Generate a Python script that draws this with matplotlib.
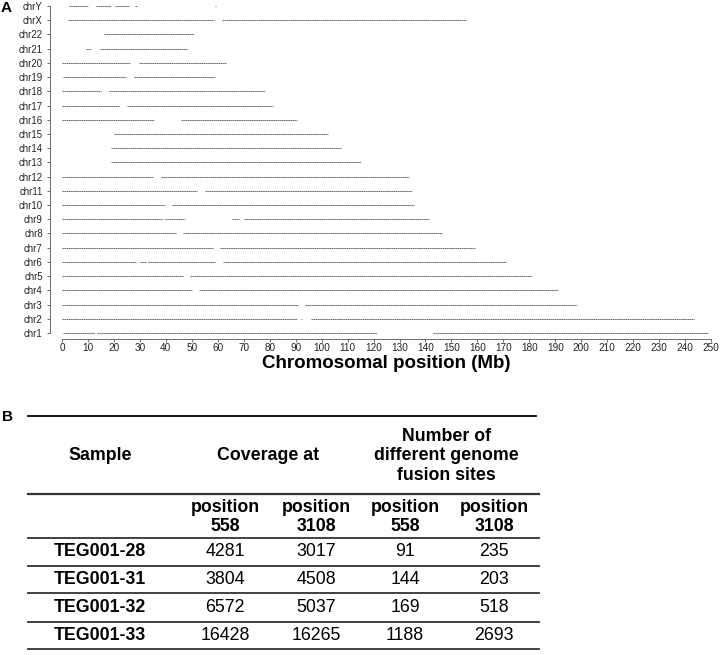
import matplotlib
matplotlib.use('Agg')
import matplotlib.pyplot as plt


# =========================
# 数据
# =========================
chroms = ['chr1', 'chr2', 'chr3', 'chr4', 'chr5', 'chr6', 'chr7', 'chr8',
          'chr9', 'chr10', 'chr11', 'chr12', 'chr13', 'chr14', 'chr15',
          'chr16', 'chr17', 'chr18', 'chr19', 'chr20', 'chr21', 'chr22',
          'chrX', 'chrY']

# 每条染色体上融合位点覆盖的区段 (Mb)
segments = [
    [(0.5, 12.7), (13.4, 121.5), (143, 249)],                 # chr1
    [(0, 90.4), (92.1, 92.5), (95.8, 243.5)],                 # chr2
    [(0, 90.8), (93.6, 198.5)],                               # chr3
    [(0, 50), (52.8, 191)],                                   # chr4
    [(0, 46.7), (49.3, 181)],                                 # chr5
    [(0, 28.6), (30, 32.5), (33.2, 58.8), (62, 171)],         # chr6
    [(0, 58), (61, 159)],                                     # chr7
    [(0, 43.8), (46.7, 146.5)],                               # chr8
    [(0, 38.8), (39.5, 47.4), (65.3, 68), (70, 141.5)],       # chr9
    [(0, 39.5), (42.2, 135.5)],                               # chr10
    [(0, 52), (55, 135)],                                     # chr11
    [(0, 35), (38, 133.5)],                                   # chr12
    [(19, 115)],                                              # chr13
    [(19, 107.5)],                                            # chr14
    [(20, 102.5)],                                            # chr15
    [(0, 35.3), (46, 90.5)],                                  # chr16
    [(0, 22), (25.2, 81.2)],                                  # chr17
    [(0, 15.2), (18.2, 78)],                                  # chr18
    [(0.2, 24.5), (27.8, 59)],                                # chr19
    [(0, 26.3), (29.5, 63)],                                  # chr20
    [(9.3, 11), (14.5, 48)],                                  # chr21
    [(16, 51)],                                               # chr22
    [(2.5, 58.5), (61.5, 155.5)],                             # chrX
    [(2.7, 10), (13, 19), (20.5, 26), (28.3, 28.7), (58.8, 59.2)],  # chrY
]

x_ticks = list(range(0, 251, 10))

# 表格数据
samples = ['TEG001-28', 'TEG001-31', 'TEG001-32', 'TEG001-33']
cov_558 = [4281, 3804, 6572, 16428]
cov_3108 = [3017, 4508, 5037, 16265]
fus_558 = [91, 144, 169, 1188]
fus_3108 = [235, 203, 518, 2693]


# =========================
# 风格
# =========================
plt.rcParams['font.family'] = ['Liberation Sans', 'DejaVu Sans']

W, H = 726, 655
fig = plt.figure(figsize=(W / 100, H / 100), dpi=100)


def fx(px):
    return px / W


def fy(py):
    return 1 - py / H


# ======================================================
# 面板 A
# ======================================================
ax = fig.add_axes([fx(50), fy(339), fx(716) - fx(50), fy(3) - fy(339)])

for i, segs in enumerate(segments):
    for s, e in segs:
        ax.hlines(i, s, e, colors='#6e6e6e', linewidth=0.75,
                  linestyles=(0, (1.6, 0.45)))

ax.set_xlim(-4.62, 251.9)
ax.set_ylim(-0.42, 23.21)

ax.set_yticks(range(len(chroms)))
ax.set_yticklabels(chroms, fontsize=6.9, color='#222222')
ax.set_xticks(x_ticks)
ax.set_xticklabels([str(t) for t in x_ticks], fontsize=7.2, color='#222222')
ax.tick_params(axis='y', length=2.2, width=0.6, pad=3, colors='#555555',
               labelcolor='#222222')
ax.tick_params(axis='x', length=2.2, width=0.6, pad=1, colors='#555555',
               labelcolor='#222222')

for side in ['top', 'right']:
    ax.spines[side].set_visible(False)
ax.spines['left'].set_bounds(0, len(chroms) - 1)
ax.spines['bottom'].set_bounds(0, 250)
ax.spines['left'].set_color('#555555')
ax.spines['bottom'].set_color('#555555')
ax.spines['left'].set_linewidth(0.6)
ax.spines['bottom'].set_linewidth(0.6)

fig.text(fx(386.5), fy(363), 'Chromosomal position (Mb)', fontsize=13.5,
         fontweight='bold', ha='center', va='center')
fig.text(fx(1), fy(7.5), 'A', fontsize=11, fontweight='bold',
         ha='left', va='center')


# ======================================================
# 面板 B 表格
# ======================================================
tb = fig.add_axes([0, 0, 1, 1], zorder=-1)
tb.set_xlim(0, W)
tb.set_ylim(H, 0)
tb.axis('off')

fig.text(fx(2), fy(417), 'B', fontsize=11, fontweight='bold',
         ha='left', va='center')

fs = 12.8
col_x = [100, 225, 316, 405, 494]

# 横线
tb.plot([28, 536], [416, 416], color='black', linewidth=1.3)
tb.plot([28, 539], [494, 494], color='#333333', linewidth=1.6)
for yy in [538, 566, 593, 622, 649]:
    tb.plot([28, 539], [yy, yy], color='#333333', linewidth=1.3)

# 表头
tb.text(col_x[0], 456, 'Sample', fontsize=fs, fontweight='bold',
        ha='center', va='center')
tb.text(268, 456, 'Coverage at', fontsize=fs, fontweight='bold',
        ha='center', va='center')
tb.text(446, 456, 'Number of\ndifferent genome\nfusion sites', fontsize=fs,
        fontweight='bold', ha='center', va='center', multialignment='center',
        linespacing=1.2)

sub_headers = ['position\n558', 'position\n3108', 'position\n558', 'position\n3108']
for x, lab in zip(col_x[1:], sub_headers):
    tb.text(x, 517, lab, fontsize=fs, fontweight='bold', ha='center',
            va='center', multialignment='center', linespacing=1.2)

# 数据行
row_y = [552, 579.5, 607, 635]
for k, yy in enumerate(row_y):
    tb.text(col_x[0], yy, samples[k], fontsize=fs, fontweight='bold',
            ha='center', va='center')
    vals = [cov_558[k], cov_3108[k], fus_558[k], fus_3108[k]]
    for x, v in zip(col_x[1:], vals):
        tb.text(x, yy, str(v), fontsize=fs, ha='center', va='center')


fig.savefig('out.png', dpi=100)
